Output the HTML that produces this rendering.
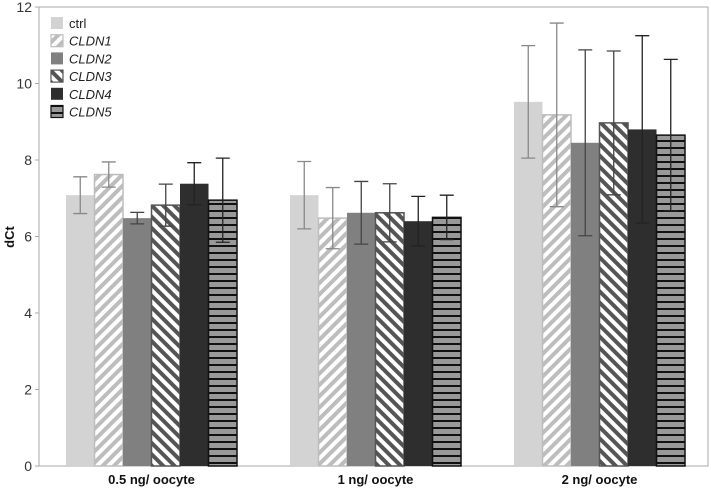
<!DOCTYPE html>
<html><head><meta charset="utf-8"><style>
body{margin:0;background:#fff}
svg text{font-family:"Liberation Sans",sans-serif}
</style></head><body>
<svg id="c" width="711" height="488">
<defs>
<pattern id="p1" patternUnits="userSpaceOnUse" width="8" height="8" patternTransform="rotate(45)"><rect width="8" height="8" fill="#fff"/><rect width="4" height="8" fill="#bdbdbd"/></pattern>
<pattern id="p3" patternUnits="userSpaceOnUse" width="8" height="8" patternTransform="rotate(-45)"><rect width="8" height="8" fill="#fff"/><rect width="4" height="8" fill="#555"/></pattern>
<pattern id="p5" patternUnits="userSpaceOnUse" width="8" height="7"><rect width="8" height="7" fill="#999"/><rect y="0" width="8" height="2" fill="#111"/></pattern>
</defs>
</svg>
<script>
const categories=["0.5 ng/ oocyte","1 ng/ oocyte","2 ng/ oocyte"];
const series=["ctrl","CLDN1","CLDN2","CLDN3","CLDN4","CLDN5"];
const ctrlVals=[7.08,7.08,9.52];
const cldn1Vals=[7.62,6.48,9.18];
const cldn2Vals=[6.48,6.62,8.45];
const cldn3Vals=[6.82,6.62,8.97];
const cldn4Vals=[7.38,6.4,8.8];
const cldn5Vals=[6.95,6.5,8.65];
const ctrlErr=[0.48,0.88,1.47];
const cldn1Err=[0.33,0.8,2.4];
const cldn2Err=[0.15,0.82,2.43];
const cldn3Err=[0.55,0.76,1.88];
const cldn4Err=[0.55,0.65,2.45];
const cldn5Err=[1.1,0.58,1.98];
const yTicks=[0,2,4,6,8,10,12];
const vals=[ctrlVals,cldn1Vals,cldn2Vals,cldn3Vals,cldn4Vals,cldn5Vals];
const errs=[ctrlErr,cldn1Err,cldn2Err,cldn3Err,cldn4Err,cldn5Err];
const fills=["#d3d3d3","url(#p1)","#808080","url(#p3)","#2e2e2e","url(#p5)"];
const strokes=["none","#bdbdbd","none","#555","none","#111"];
const ecol=["#888","#888","#444","#444","#222","#222"];
const NS="http://www.w3.org/2000/svg";
const svg=document.getElementById('c');
const L=39,R=708,T=7,B=466,yMax=12;
const y=v=>B-(v/yMax)*(B-T);
const gStart=i=>66+i*224, bw=28.5;
function mk(t,a){const e=document.createElementNS(NS,t);for(const k in a)e.setAttribute(k,a[k]);svg.appendChild(e);return e;}
const frame=mk('rect',{x:L,y:T,width:R-L,height:B-T,fill:'none',stroke:'#aaa'});


yTicks.forEach(t=>{
 const l=mk('line',{x1:L-4,x2:L,y1:y(t),y2:y(t),stroke:'#aaa'});
 
 
 const tx=mk('text',{x:L-7,y:y(t)+5,'text-anchor':'end','font-size':14,fill:'#333'});tx.textContent=t;
 
 
});
const yl=mk('text',{x:0,y:0,transform:'translate(14,237) rotate(-90)','text-anchor':'middle','font-size':13,'font-weight':'bold',fill:'#111'});yl.textContent='dCt';


categories.forEach((c,i)=>{
 series.forEach((s,j)=>{
  const x=gStart(i)+j*bw,v=vals[j][i],e=errs[j][i];
  const r=mk('rect',{x:x,y:y(v),width:bw,height:B-y(v),fill:fills[j],stroke:strokes[j],'stroke-width':strokes[j]=='none'?0:1.5});
  
  
  const cx=x+bw/2;
  const g=mk('path',{d:`M${cx-7},${y(v+e)}H${cx+7}M${cx},${y(v+e)}V${y(v-e)}M${cx-7},${y(v-e)}H${cx+7}`,stroke:ecol[j],'stroke-width':1.3,fill:'none'});
  
  
 });
 const t=mk('text',{x:gStart(i)+3*bw,y:484,'text-anchor':'middle','font-size':13,'font-weight':'bold',fill:'#111'});t.textContent=c;
 
 
});
series.forEach((s,j)=>{
 const yy=17+j*17.7;
 const r=mk('rect',{x:51,y:yy,width:12,height:12,fill:fills[j],stroke:strokes[j],'stroke-width':strokes[j]=='none'?0:1.2});
 
 
 const t=mk('text',{x:69,y:yy+11,'font-size':13,fill:'#222','font-style':j?'italic':'normal'});t.textContent=s;
 
 
});
</script>
</body></html>
